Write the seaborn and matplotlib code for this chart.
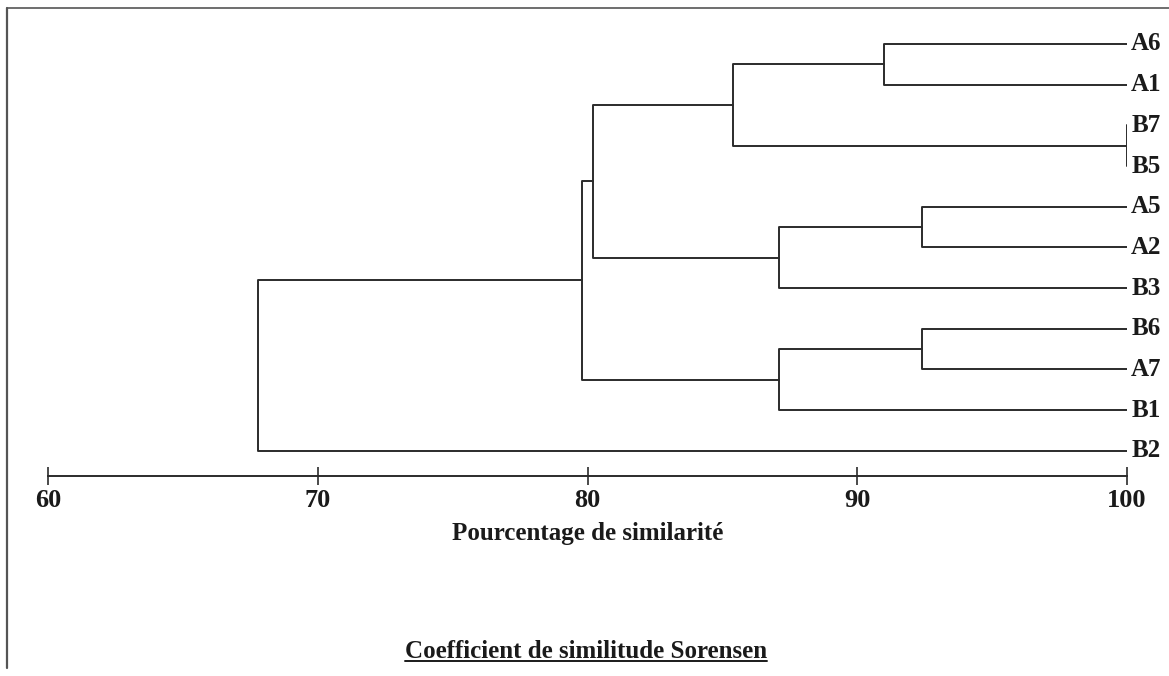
import numpy as np
import pandas as pd
import matplotlib
matplotlib.use("Agg")
import matplotlib.pyplot as plt
from matplotlib.lines import Line2D
import seaborn as sns

# ---- data -------------------------------------------------------------
leaves = ["A6", "A1", "B7", "B5", "A5", "A2", "B3", "B6", "A7", "B1", "B2"]
merge_a = ["A6", "B7", "M1", "A5", "M4", "M3", "B6", "M7", "M6", "M9"]
merge_b = ["A1", "B5", "M2", "A2", "B3", "M5", "A7", "B1", "M8", "B2"]
merge_similarity = [91.0, 100.0, 85.4, 92.4, 87.1, 80.2, 92.4, 87.1, 79.8, 67.8]
tick_values = [60, 70, 80, 90, 100]
x_label = "Pourcentage de similarité"
caption = "Coefficient de similitude Sorensen"

# ---- build dendrogram segments --------------------------------------
pos = {name: (100.0, float(i)) for i, name in enumerate(leaves)}
rows = []
for k, (a, b, s) in enumerate(zip(merge_a, merge_b, merge_similarity)):
    xa, ya = pos[a]
    xb, yb = pos[b]
    pts = [(xa, ya), (s, ya), (s, yb), (xb, yb)]
    for j, (px, py) in enumerate(pts):
        rows.append({"seg": k, "order": j, "x": px, "y": py})
    pos[f"M{k+1}"] = (s, (ya + yb) / 2)
df = pd.DataFrame(rows)

# ---- figure -----------------------------------------------------------
sns.set_theme(style="white")
plt.rcParams["font.family"] = ["Liberation Serif", "DejaVu Serif"]

W, H = 1169, 676
fig = plt.figure(figsize=(W / 100, H / 100), dpi=100)
fig.patch.set_facecolor("white")
ax = fig.add_axes([48 / W, 1 - 476 / H, (1127 - 48) / W, (476 - 30) / H])

line_col = "#2b2b2b"
sns.lineplot(data=df, x="x", y="y", units="seg", estimator=None, sort=False,
             color=line_col, linewidth=1.4, ax=ax, legend=False)

ax.set_xlim(60, 100)
ax.set_ylim(10.62, -0.344)
for sp in ["top", "right", "left"]:
    ax.spines[sp].set_visible(False)
ax.spines["bottom"].set_color(line_col)
ax.spines["bottom"].set_linewidth(1.4)
ax.set_yticks([])
ax.set_ylabel("")
ax.set_xticks(tick_values)
ax.set_xticklabels([str(t) for t in tick_values])
ax.tick_params(axis="x", bottom=True, direction="inout", length=13, width=1.2,
               color=line_col, pad=3, labelsize=19, labelcolor="#1a1a1a")
for lbl in ax.get_xticklabels():
    lbl.set_fontweight("bold")
ax.set_xlabel(x_label, fontsize=18, fontweight="bold", color="#1a1a1a", labelpad=7)

for i, name in enumerate(leaves):
    ax.annotate(name, xy=(100, i), xytext=(3, 0), textcoords="offset points",
                va="center", ha="left", fontsize=18, fontweight="bold",
                color="#1a1a1a", annotation_clip=False)

# frame lines of the original page
fig.add_artist(Line2D([7 / W, 7 / W], [1 - 8 / H, 1 - 668 / H],
                      transform=fig.transFigure, color="#555555", lw=1.6))
fig.add_artist(Line2D([7 / W, 1.0], [1 - 8 / H, 1 - 8 / H],
                      transform=fig.transFigure, color="#555555", lw=1.2))

# underlined caption
t = fig.text(586 / W, 1 - 651 / H, caption, ha="center", va="center",
             fontsize=18, fontweight="bold", color="#1a1a1a")
fig.canvas.draw()
bb = t.get_window_extent(renderer=fig.canvas.get_renderer())
inv = fig.transFigure.inverted()
(x0, y0), (x1, y1) = inv.transform([(bb.x0, bb.y0), (bb.x1, bb.y1)])
fig.add_artist(Line2D([x0, x1], [y0 + 2 / H, y0 + 2 / H],
                      transform=fig.transFigure, color="#1a1a1a", lw=1.4))

fig.savefig("out.png", dpi=100, facecolor="white")
